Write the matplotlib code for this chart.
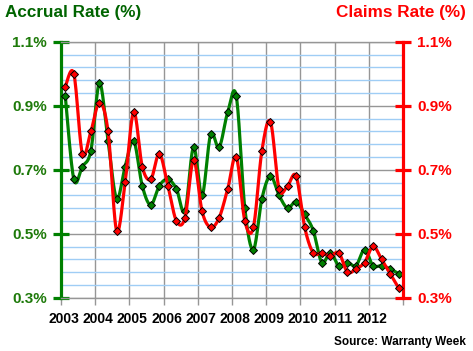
import numpy as np
import matplotlib
matplotlib.use("Agg")
import matplotlib.pyplot as plt
from matplotlib.transforms import ScaledTranslation

plt.rcParams['font.family'] = ['Liberation Sans', 'DejaVu Sans']

years = [2003, 2004, 2005, 2006, 2007, 2008, 2009, 2010, 2011, 2012]
year_labels = [str(y) for y in years]
y_ticks = [0.3, 0.5, 0.7, 0.9, 1.1]
y_tick_labels = ["0.3%", "0.5%", "0.7%", "0.9%", "1.1%"]

# quarterly values 2003Q1 .. 2012Q4
accrual = [0.93, 0.67, 0.71, 0.76, 0.97, 0.79, 0.61, 0.71, 0.79, 0.65,
           0.59, 0.65, 0.67, 0.64, 0.57, 0.77, 0.62, 0.81, 0.77, 0.88,
           0.93, 0.58, 0.45, 0.61, 0.68, 0.62, 0.58, 0.60, 0.56, 0.51,
           0.41, 0.44, 0.40, 0.41, 0.40, 0.45, 0.40, 0.40, 0.39, 0.375]
claims = [0.96, 1.00, 0.75, 0.82, 0.91, 0.82, 0.51, 0.66, 0.88, 0.71,
          0.67, 0.75, 0.65, 0.54, 0.55, 0.73, 0.57, 0.52, 0.55, 0.64,
          0.74, 0.54, 0.52, 0.76, 0.85, 0.64, 0.65, 0.68, 0.52, 0.44,
          0.44, 0.43, 0.44, 0.38, 0.39, 0.41, 0.46, 0.42, 0.375, 0.33]

n_q = len(accrual)
xq = years[0] + 0.125 + 0.25 * np.arange(n_q)

GREEN = "#008000"
GREEN_TXT = "#1e7a0a"
RED = "#ff0000"
GRID = "#969696"
MINOR = "#9fcdf5"


def smooth(x, y, n=16):
    pts = np.column_stack([x, y]).astype(float)
    P = np.vstack([pts[0], pts, pts[-1]])
    out = []
    t = np.linspace(0, 1, n, endpoint=False)[:, None]
    for i in range(1, len(P) - 2):
        p0, p1, p2, p3 = P[i - 1], P[i], P[i + 1], P[i + 2]
        c1 = p1 + (p2 - p0) / 6.0
        c2 = p2 - (p3 - p1) / 6.0
        seg = ((1 - t) ** 3) * p1 + 3 * ((1 - t) ** 2) * t * c1 + 3 * (1 - t) * t ** 2 * c2 + t ** 3 * p2
        out.append(seg)
    out.append(pts[-1:])
    s = np.vstack(out)
    return s[:, 0], s[:, 1]


fig = plt.figure(figsize=(4.73, 3.51), dpi=100)
ax = fig.add_axes([61 / 473, 1 - 297.7 / 351, (403 - 61) / 473, (297.7 - 41.7) / 351])
ax2 = ax.twinx()

ax.set_xlim(2003, 2013)
ax.set_ylim(0.3, 1.1)
ax2.set_ylim(0.3, 1.1)

# grid
ax.set_yticks(y_ticks)
ax.set_yticks([v for v in np.arange(0.3, 1.1001, 0.04) if min(abs(v - m) for m in y_ticks) > 1e-6], minor=True)
ax.set_xticks(years + [2013])
ax.grid(True, which='major', axis='both', color=GRID, lw=1.0, zorder=0)
ax.grid(True, which='minor', axis='y', color=MINOR, lw=1.0, zorder=0)
ax.set_axisbelow(True)

# series
gx, gy = smooth(xq, accrual)
ax.plot(gx, gy, color=GREEN, lw=2.3, zorder=3, solid_capstyle='round')
ax.plot(xq, accrual, ls='none', marker='D', ms=3.9, mfc=GREEN, mec='black', mew=0.7, zorder=4)
rx, ry = smooth(xq, claims)
ax2.plot(rx, ry, color=RED, lw=2.3, zorder=3, solid_capstyle='round')
ax2.plot(xq, claims, ls='none', marker='D', ms=3.9, mfc=RED, mec='black', mew=0.7, zorder=4)

# spines
for s in ['top', 'bottom']:
    ax.spines[s].set_color(GRID)
    ax.spines[s].set_linewidth(1.0)
    ax2.spines[s].set_visible(False)
ax.spines['left'].set_color(GREEN)
ax.spines['left'].set_linewidth(2.3)
ax.spines['right'].set_visible(False)
ax2.spines['left'].set_visible(False)
ax2.spines['right'].set_color(RED)
ax2.spines['right'].set_linewidth(2.3)

# y ticks
ax.set_yticklabels(y_tick_labels)
ax.tick_params(axis='y', which='major', direction='inout', length=12, width=2.3, color=GREEN,
               labelcolor=GREEN_TXT, labelsize=11, pad=4)
ax.tick_params(axis='y', which='minor', length=0)
for lab in ax.get_yticklabels():
    lab.set_fontweight('bold')
ax2.set_yticks(y_ticks)
ax2.set_yticklabels(y_tick_labels)
ax2.tick_params(axis='y', which='major', direction='inout', length=12, width=2.3, color=RED,
                labelcolor=RED, labelsize=11, pad=4)
for lab in ax2.get_yticklabels():
    lab.set_fontweight('bold')

# x ticks
ax.set_xticklabels(year_labels + [""])
ax.tick_params(axis='x', direction='out', length=5, width=1.0, color=GRID, labelsize=10, pad=5,
               labelcolor='black')
off = ScaledTranslation(3 / 100, 0, fig.dpi_scale_trans)
for lab in ax.get_xticklabels():
    lab.set_fontweight('bold')
    lab.set_transform(lab.get_transform() + off)

fig.text(5 / 473, 1 - 12 / 351, "Accrual Rate (%)", color="#006400", fontsize=12.3, fontweight='bold',
         ha='left', va='center')
fig.text(466 / 473, 1 - 12 / 351, "Claims Rate (%)", color=RED, fontsize=12.3, fontweight='bold',
         ha='right', va='center')
fig.text(466 / 473, 1 - 342 / 351, "Source: Warranty Week", color='black', fontsize=8.5, fontweight='bold',
         ha='right', va='center')

fig.savefig("out.png", dpi=100)
